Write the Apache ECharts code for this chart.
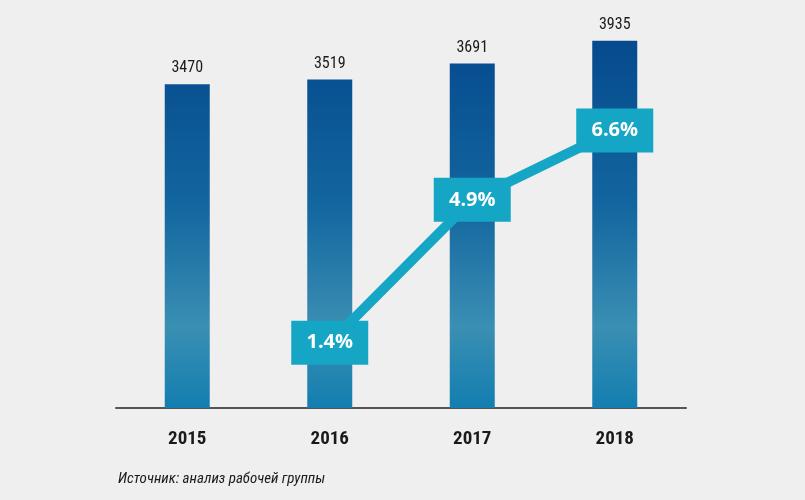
<!DOCTYPE html>
<html>
<head>
<meta charset="utf-8">
<script src="https://cdn.jsdelivr.net/npm/echarts@6/dist/echarts.min.js"></script>
<style>
  html, body { margin: 0; padding: 0; background: #efefef; }
  #chart { width: 805px; height: 500px; }
</style>
</head>
<body>
<div id="chart"></div>
<script>
var years = ['2015', '2016', '2017', '2018'];
var totals = [3470, 3519, 3691, 3935];
var growth = ['-', 1.4, 4.9, 6.6];

var teal = '#14a6c4';
var narrow = '"Liberation Sans Narrow", "Roboto Condensed", "DejaVu Sans Condensed", sans-serif';

var barFill = new echarts.graphic.LinearGradient(0, 40, 0, 408, [
  { offset: 0, color: '#054a8e' },
  { offset: 0.45, color: '#13669f' },
  { offset: 0.78, color: '#3a8fb3' },
  { offset: 1, color: '#137eb0' }
], true);

var chart = echarts.init(document.getElementById('chart'));
chart.setOption({
  backgroundColor: '#efefef',
  animation: false,
  grid: { left: 116, right: 119, top: 30, bottom: 92 },
  xAxis: {
    type: 'category',
    data: years,
    axisTick: { show: false },
    axisLine: { lineStyle: { color: '#555', width: 2 } },
    axisLabel: {
      margin: 22,
      color: '#1a1a1a',
      fontFamily: narrow,
      fontWeight: 'bold',
      fontSize: 19
    }
  },
  yAxis: [
    { type: 'value', min: 0, max: 4050, show: false, splitLine: { show: false } },
    { type: 'value', min: -0.2, max: 9.06, show: false, splitLine: { show: false } }
  ],
  series: [
    {
      type: 'bar',
      data: totals,
      barWidth: 45,
      itemStyle: { color: barFill },
      label: {
        show: true,
        position: 'top',
        distance: 8,
        color: '#1a1a1a',
        fontFamily: narrow,
        fontSize: 16
      }
    },
    {
      type: 'line',
      yAxisIndex: 1,
      data: growth,
      lineStyle: { color: teal, width: 10 },
      symbol: 'rect',
      symbolSize: [77, 44],
      itemStyle: { color: teal },
      z: 5,
      label: {
        show: true,
        position: 'inside',
        formatter: function (p) { return p.value.toFixed(1) + '%'; },
        color: '#ffffff',
        fontFamily: '"Open Sans", "DejaVu Sans", sans-serif',
        fontWeight: 'bold',
        fontSize: 20
      }
    }
  ],
  graphic: [
    {
      type: 'text',
      left: 118,
      top: 472,
      style: {
        text: 'Источник: анализ рабочей группы',
        fill: '#1a1a1a',
        font: 'italic 15px ' + narrow
      }
    }
  ]
});
</script>
</body>
</html>
